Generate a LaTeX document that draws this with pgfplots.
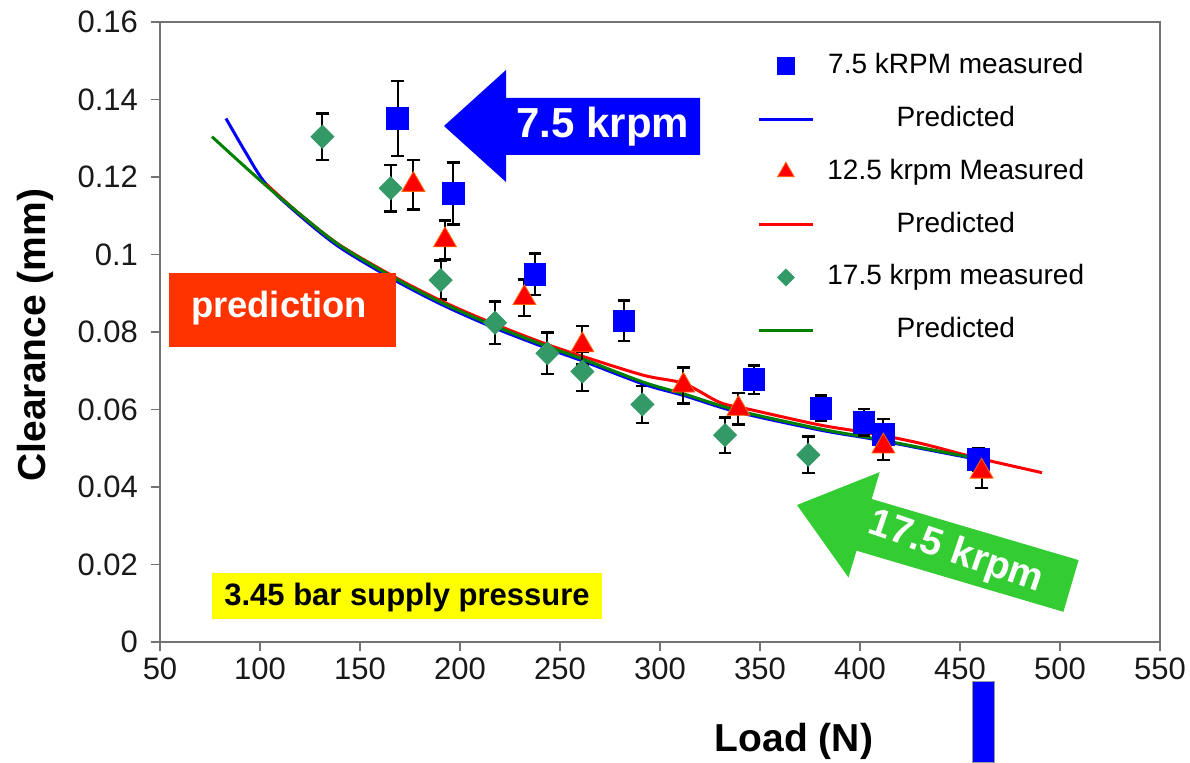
\documentclass[border=0pt]{standalone}
\usepackage{fontspec}
\setmainfont{Liberation Sans}
\usepackage{pgfplots}
\usepackage{pgfplotstable}
\pgfplotsset{compat=1.18}

\definecolor{sqblue}{HTML}{0000FF}
\definecolor{trired}{HTML}{FF0000}
\definecolor{triedge}{HTML}{FF6600}
\definecolor{dmgreen}{HTML}{339966}
\definecolor{lnblue}{HTML}{0000FF}
\definecolor{lnred}{HTML}{FF0000}
\definecolor{lngreen}{HTML}{008000}
\definecolor{predred}{HTML}{FF3300}
\definecolor{arrgreen}{HTML}{33CC33}
\definecolor{boxyellow}{HTML}{FFFF00}

% measured clearance: load, value, +- error
\pgfplotstableread{
x     y      e
168.8 0.1351 0.0097
196.7 0.1157 0.0080
237.5 0.0949 0.0053
282.0 0.0829 0.0052
347.0 0.0677 0.0037
380.5 0.0603 0.0033
402.0 0.0567 0.0034
411.7 0.0535 0.0040
459.2 0.0471 0.0030
}\meassev
\pgfplotstableread{
x     y      e
176.7 0.1180 0.0064
192.5 0.1037 0.0050
232.2 0.0888 0.0047
261.2 0.0766 0.0050
311.7 0.0662 0.0047
339.2 0.0602 0.0041
411.7 0.0505 0.0035
460.8 0.0440 0.0043
}\meastwelve
\pgfplotstableread{
x     y      e
131.2 0.1304 0.0060
165.3 0.1171 0.0060
190.3 0.0934 0.0050
217.5 0.0824 0.0055
243.7 0.0745 0.0053
261.2 0.0698 0.0050
291.2 0.0613 0.0048
332.5 0.0534 0.0046
374.2 0.0483 0.0047
}\measseventeen

\pgfplotsset{
  errbar/.style={forget plot, only marks, mark=none,
    error bars/.cd, y dir=both, y explicit,
    error bar style={draw=black, line width=1pt},
    error mark options={draw=black, rotate=90, line width=1.3pt, mark size=3.2pt}},
}

\begin{document}
\begin{tikzpicture}
\begin{axis}[
  width=500pt, height=310pt, scale only axis,
  xmin=50, xmax=550, ymin=0, ymax=0.16,
  xtick={50,100,...,550},
  ytick={0,0.02,0.04,0.06,0.08,0.1,0.12,0.14,0.16},
  yticklabel style={/pgf/number format/fixed, /pgf/number format/precision=2, xshift=-3pt},
  /pgf/number format/assume math mode=true,
  tick label style={font=\fontsize{15.5}{18}\selectfont, color=black!90},
  tick pos=left, tick align=outside, major tick length=4.5pt,
  axis line style={draw=black!55, line width=0.8pt},
  every tick/.style={draw=black!55, line width=0.8pt},
  xlabel={Load (N)}, ylabel={Clearance (mm)},
  label style={font=\fontsize{19.5}{22}\selectfont\bfseries},
  xlabel style={at={(axis description cs:0.634,-0.161)}, anchor=center},
  ylabel style={at={(axis description cs:-0.125,0.495)}, anchor=center},
  legend cell align=center,
  legend style={at={(axis description cs:0.597,0.951)}, anchor=north west,
    draw=none, fill=none, font=\fontsize{14}{16}\selectfont,
    row sep=12.9pt, column sep=6.5pt, inner sep=0pt,
    nodes={inner sep=0pt, text height=10.5pt, text depth=3pt}},
  legend image code/.code={\draw[mark repeat=2,mark phase=2,#1]
    plot coordinates {(0pt,0pt)(13.5pt,0pt)(27pt,0pt)};},
]
% legend first, plots below are drawn in the order of the reference
\addlegendimage{only marks, mark=square*, mark size=4.2pt, color=sqblue}
\addlegendentry{7.5 kRPM measured}
\addlegendimage{line width=1.5pt, color=lnblue}
\addlegendentry{Predicted}
\addlegendimage{only marks, mark=triangle*, mark size=4.8pt, mark options={draw=triedge, fill=trired}}
\addlegendentry{12.5 krpm Measured}
\addlegendimage{line width=1.5pt, color=lnred}
\addlegendentry{Predicted}
\addlegendimage{only marks, mark=square*, mark size=2.95pt, mark options={rotate=45}, color=dmgreen}
\addlegendentry{17.5 krpm measured}
\addlegendimage{line width=1.5pt, color=lngreen}
\addlegendentry{Predicted}

% 17.5 krpm measured
\addplot[errbar] table[x=x, y=y, y error=e] {\measseventeen};
\addplot[forget plot, only marks, mark=square*, mark size=4.07pt,
  mark options={rotate=45, draw=dmgreen, fill=dmgreen}] table[x=x, y=y] {\measseventeen};

% predicted curves
\addplot[forget plot, lnblue, line width=1.5pt, smooth] coordinates {
 (83,0.1351)(93,0.1262)(103,0.1182)(120,0.1100)(140,0.1018)(168,0.0932)
 (192,0.0868)(217,0.0811)(243,0.0759)(262,0.0724)(292,0.0665)(312,0.0636)
 (339,0.0593)(380,0.0547)(405,0.0525)(430,0.0500)(458,0.0472)};
\addplot[forget plot, lnred, line width=1.5pt, smooth] coordinates {
 (103,0.1182)(120,0.1104)(140,0.1024)(168,0.0940)(192,0.0877)(217,0.0821)
 (243,0.0769)(262,0.0736)(292,0.0688)(312,0.0667)(330,0.0618)(345,0.0600)
 (380,0.0560)(405,0.0539)(430,0.0513)(457,0.0477)(491,0.0437)};
\addplot[forget plot, lngreen, line width=1.5pt, smooth] coordinates {
 (76,0.1304)(90,0.1238)(103,0.1178)(120,0.1104)(140,0.1023)(168,0.0937)
 (192,0.0873)(217,0.0816)(243,0.0764)(262,0.0729)(292,0.0670)(312,0.0640)
 (339,0.0597)(380,0.0550)(405,0.0527)(430,0.0502)(458,0.0474)};

% 7.5 kRPM measured
\addplot[errbar] table[x=x, y=y, y error=e] {\meassev};
\addplot[forget plot, only marks, mark=square*, mark size=5.4pt,
  mark options={draw=sqblue, fill=sqblue}] table[x=x, y=y] {\meassev};

% 12.5 krpm measured
\addplot[errbar] table[x=x, y=y, y error=e] {\meastwelve};
\addplot[forget plot, only marks, mark=triangle*, mark size=6.6pt,
  mark options={draw=triedge, fill=trired}] table[x=x, y=y] {\meastwelve};
\end{axis}

% annotations, in pixel units of the reference picture
\begin{scope}[shift={(-80pt,321pt)}, x=0.5pt, y=-0.5pt]
  \fill[sqblue] (444,126) -- (506,70) -- (506,98) -- (700,98) -- (700,155)
    -- (506,155) -- (506,182) -- cycle;
  \node[text=white, font=\fontsize{21}{24}\selectfont\bfseries] at (603,127) {7.5 krpm};
  \fill[predred] (169,273) rectangle (396,347);
  \node[text=white, font=\fontsize{18.2}{21}\selectfont\bfseries] at (279,308) {prediction};
  \fill[arrgreen] (797,505) -- (879.7,472.1) -- (871.7,499) -- (1078.6,560.1)
    -- (1063.4,611.8) -- (856.5,550.7) -- (848.5,577.5) -- cycle;
  \node[text=white, rotate=-19, font=\fontsize{19.5}{24}\selectfont\bfseries] at (956,553) {17.5 krpm};
  \fill[boxyellow] (212,573) rectangle (602,619);
  \node[font=\fontsize{15.5}{18}\selectfont\bfseries] at (407,597) {3.45 bar supply pressure};
  \filldraw[fill=sqblue, draw=black!40, line width=0.5pt] (972,681) rectangle (994,762);
\end{scope}

\pgfresetboundingbox
\path[use as bounding box] (-80pt,-60pt) rectangle (515pt,321pt);
\end{tikzpicture}
\end{document}
